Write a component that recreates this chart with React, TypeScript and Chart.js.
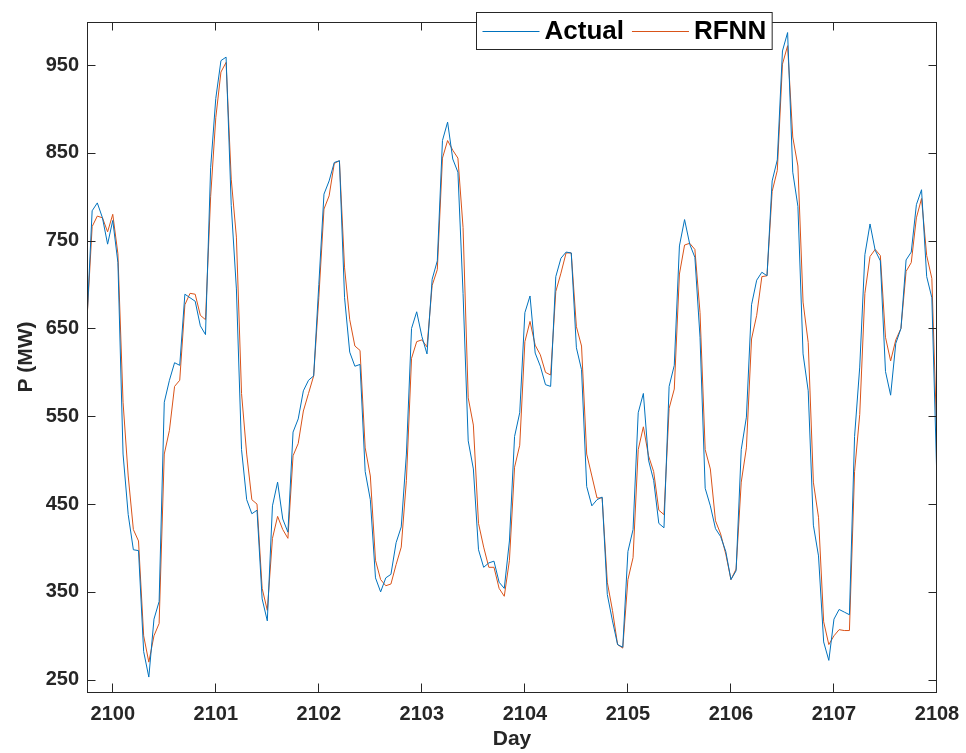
import React, { useEffect, useRef } from "react";
import { Chart, registerables } from "chart.js";

Chart.register(...registerables);

// time grid: one sample every 0.05 day starting at day 2099.75
const startDay = 2099.75;
const stepDay = 0.05;

const seriesLabels = ["Actual", "RFNN"];

const actual = [
  660, 784, 793, 776, 746, 773, 725, 507, 438, 398,
  397, 282, 253, 319, 339, 566, 591, 611, 608, 689,
  685, 681, 653, 643, 833, 912, 955, 959, 790, 695,
  512, 455, 439, 443, 342, 317, 448, 475, 433, 418,
  532, 547, 579, 591, 596, 700, 803, 818, 839, 841,
  685, 623, 607, 609, 487, 455, 366, 350, 366, 370,
  406, 424, 507, 650, 669, 641, 621, 706, 727, 864,
  885, 843, 828, 690, 522, 490, 398, 378, 383, 385,
  361, 354, 408, 527, 554, 668, 687, 622, 607, 586,
  584, 709, 730, 737, 736, 628, 603, 470, 448, 455,
  458, 347, 317, 290, 287, 396, 421, 554, 576, 500,
  477, 428, 423, 584, 608, 744, 774, 746, 731, 640,
  468, 448, 422, 413, 396, 364, 374, 512, 549, 677,
  705, 714, 710, 818, 842, 966, 987, 828, 789, 621,
  579, 426, 391, 293, 272, 319, 330, 327, 324, 527,
  606, 734, 769, 739, 727, 601, 574, 633, 650, 728,
  737, 791, 808, 709, 685, 473,
];

const rfnn = [
  660, 766, 778, 776, 760, 780, 735, 566, 482, 421,
  408, 300, 270, 300, 314, 507, 534, 584, 591, 677,
  690, 689, 665, 660, 800, 890, 942, 953, 820, 754,
  576, 507, 455, 450, 354, 329, 411, 436, 421, 411,
  505, 519, 556, 576, 596, 685, 786, 801, 838, 841,
  719, 660, 630, 625, 514, 482, 386, 364, 357, 359,
  381, 401, 477, 616, 635, 637, 629, 699, 717, 844,
  864, 853, 844, 765, 571, 540, 428, 401, 378, 378,
  354, 345, 386, 492, 517, 635, 658, 631, 620, 600,
  597, 692, 713, 736, 736, 652, 630, 507, 482, 457,
  457, 361, 329, 290, 286, 364, 389, 512, 538, 505,
  487, 443, 438, 559, 581, 712, 745, 747, 740, 668,
  512, 490, 431, 416, 393, 364, 376, 475, 514, 638,
  665, 709, 710, 806, 830, 951, 972, 868, 835, 680,
  634, 475, 435, 316, 290, 300, 307, 306, 306, 487,
  552, 690, 732, 740, 733, 640, 613, 637, 650, 715,
  725, 776, 798, 733, 707, 519,
];

const xTicks = [2100, 2101, 2102, 2103, 2104, 2105, 2106, 2107, 2108];
const yTicks = [250, 350, 450, 550, 650, 750, 850, 950];

const xMin = 2099.75;
const xMax = 2108;
const yMin = 236;
const yMax = 999;

const colors = ["#0072BD", "#D95319"];
const axisColor = "#262626";
const fontFamily = "'Liberation Sans', Arial, Helvetica, sans-serif";

const toPoints = (vals: number[]) =>
  vals.map((v, i) => ({ x: startDay + i * stepDay, y: v }));

const framePlugin = {
  id: "matlabFrame",
  afterDatasetsDraw(chart: any) {
    const { ctx, chartArea, scales } = chart;
    const { left, right, top, bottom } = chartArea;
    const x = scales.x;
    const y = scales.y;
    const L = 8.5;
    ctx.save();
    ctx.strokeStyle = axisColor;
    ctx.lineWidth = 1;
    ctx.beginPath();
    for (const t of xTicks) {
      const px = Math.round(x.getPixelForValue(t)) - 0.5;
      ctx.moveTo(px, bottom);
      ctx.lineTo(px, bottom - L);
      ctx.moveTo(px, top);
      ctx.lineTo(px, top + L);
    }
    for (const t of yTicks) {
      const py = Math.round(y.getPixelForValue(t)) + 0.5;
      ctx.moveTo(left, py);
      ctx.lineTo(left + L, py);
      ctx.moveTo(right, py);
      ctx.lineTo(right - L, py);
    }
    ctx.stroke();
    ctx.strokeRect(left + 0.5, top + 0.5, right - left - 1, bottom - top);
    ctx.restore();
  },
};

const legendPlugin = {
  id: "matlabLegend",
  afterDraw(chart: any) {
    const { ctx } = chart;
    const dsets = chart.data.datasets;
    ctx.save();
    ctx.font = `bold 26px ${fontFamily}`;
    const pad = 6;
    const lineLen = 57;
    const gapText = 5;
    const gapEntry = 8;
    let total = pad;
    const widths = dsets.map((d: any) => ctx.measureText(d.label).width);
    widths.forEach((w: number, i: number) => {
      total += lineLen + gapText + w + (i < widths.length - 1 ? gapEntry : 0);
    });
    total += pad;
    const cx = 623.5;
    const boxLeft = Math.round(cx - total / 2) + 0.5;
    const boxTop = 12.5;
    const boxH = 37;
    ctx.fillStyle = "#ffffff";
    ctx.fillRect(boxLeft, boxTop, total, boxH);
    ctx.strokeStyle = axisColor;
    ctx.lineWidth = 1;
    ctx.strokeRect(boxLeft, boxTop, total, boxH);
    const midY = boxTop + boxH / 2;
    let xPos = boxLeft + pad;
    dsets.forEach((d: any, i: number) => {
      ctx.strokeStyle = d.borderColor;
      ctx.lineWidth = 1;
      ctx.beginPath();
      ctx.moveTo(xPos, Math.round(midY) + 0.5);
      ctx.lineTo(xPos + lineLen, Math.round(midY) + 0.5);
      ctx.stroke();
      xPos += lineLen + gapText;
      ctx.fillStyle = "#000000";
      ctx.textBaseline = "middle";
      ctx.textAlign = "left";
      ctx.fillText(d.label, xPos, midY + 1);
      xPos += widths[i] + gapEntry;
    });
    ctx.restore();
  },
};

export default function App() {
  const canvasRef = useRef<HTMLCanvasElement | null>(null);

  useEffect(() => {
    if (!canvasRef.current) return;
    const chart = new Chart(canvasRef.current, {
      type: "line",
      data: {
        datasets: [
          {
            label: seriesLabels[0],
            data: toPoints(actual),
            borderColor: colors[0],
            backgroundColor: colors[0],
            borderWidth: 1,
            pointRadius: 0,
            tension: 0,
          },
          {
            label: seriesLabels[1],
            data: toPoints(rfnn),
            borderColor: colors[1],
            backgroundColor: colors[1],
            borderWidth: 1,
            pointRadius: 0,
            tension: 0,
          },
        ],
      },
      options: {
        animation: false,
        responsive: false,
        devicePixelRatio: 1,
        layout: { padding: { left: 0, top: 22, right: 29, bottom: 0 } },
        plugins: {
          legend: { display: false },
          tooltip: { enabled: false },
        },
        scales: {
          x: {
            type: "linear",
            min: xMin,
            max: xMax,
            afterBuildTicks: (scale: any) => {
              scale.ticks = xTicks.map((v) => ({ value: v }));
            },
            afterFit: (scale: any) => {
              scale.height = 61;
              scale.paddingLeft = 0;
              scale.paddingRight = 0;
            },
            grid: { display: false, drawTicks: false },
            border: { display: false },
            ticks: {
              color: axisColor,
              padding: 10,
              maxRotation: 0,
              autoSkip: false,
              font: { family: fontFamily, size: 20, weight: "bold" },
              callback: (v: any) => String(v),
            },
            title: {
              display: true,
              text: "Day",
              color: axisColor,
              font: { family: fontFamily, size: 21, weight: "bold" },
              padding: { top: 0, bottom: 1 },
            },
          },
          y: {
            type: "linear",
            min: yMin,
            max: yMax,
            afterBuildTicks: (scale: any) => {
              scale.ticks = yTicks.map((v) => ({ value: v }));
            },
            afterFit: (scale: any) => {
              scale.width = 87;
              scale.paddingTop = 0;
              scale.paddingBottom = 0;
            },
            grid: { display: false, drawTicks: false },
            border: { display: false },
            ticks: {
              color: axisColor,
              padding: 8,
              autoSkip: false,
              font: { family: fontFamily, size: 20, weight: "bold" },
              callback: (v: any) => String(v),
            },
            title: {
              display: true,
              text: "P (MW)",
              color: axisColor,
              font: { family: fontFamily, size: 21, weight: "bold" },
              padding: { top: 14, bottom: 0 },
            },
          },
        },
      },
      plugins: [framePlugin, legendPlugin],
    });
    return () => chart.destroy();
  }, []);

  return (
    <div style={{ position: "absolute", left: 0, top: 0, width: 966, height: 753, background: "#ffffff" }}>
      <canvas ref={canvasRef} width={966} height={753} style={{ display: "block" }} />
    </div>
  );
}
